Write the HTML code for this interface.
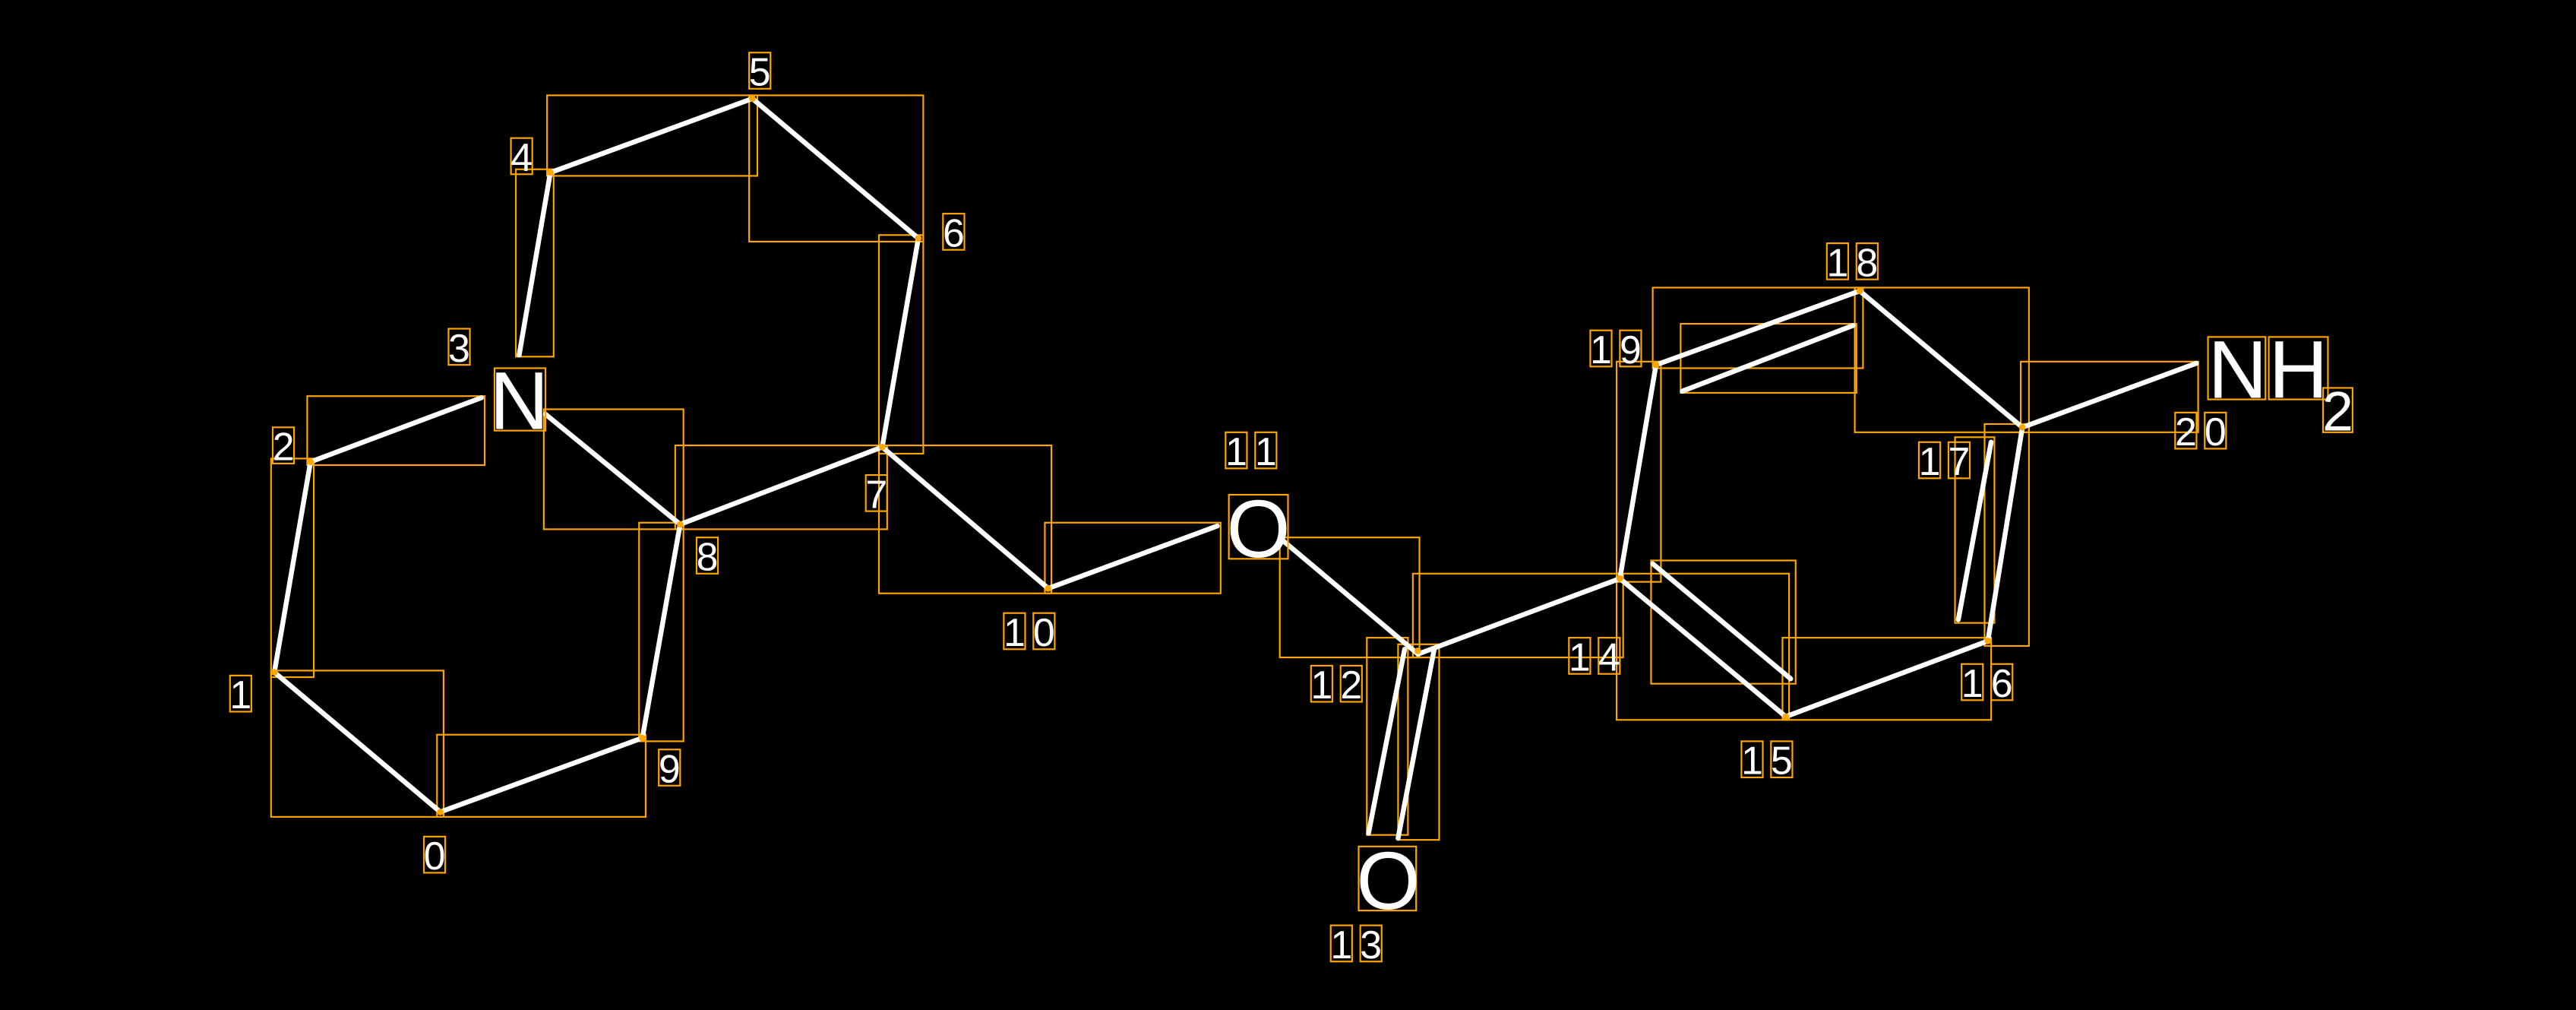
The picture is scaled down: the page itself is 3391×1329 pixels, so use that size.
<!DOCTYPE html>
<html><head><meta charset="utf-8"><style>
html,body{margin:0;padding:0;background:#000;}
svg{display:block;}
text{font-family:"Liberation Sans","DejaVu Sans",sans-serif;fill:#fff;}
</style></head><body>
<svg width="3391" height="1329" viewBox="0 0 1568 614.5" preserveAspectRatio="none" xmlns="http://www.w3.org/2000/svg">
<rect x="0" y="0" width="1568" height="614.5" fill="#000"/>
<g fill="none" stroke="#FFA500" stroke-width="1">
<rect x="165" y="408" width="105" height="89"/>
<rect x="266" y="447" width="127" height="50"/>
<rect x="165" y="279" width="26" height="133"/>
<rect x="187" y="241" width="108" height="42"/>
<rect x="314" y="103" width="23" height="114"/>
<rect x="333" y="58" width="128" height="49"/>
<rect x="456" y="58" width="106" height="89"/>
<rect x="535" y="143" width="27" height="133"/>
<rect x="411" y="271" width="129" height="51"/>
<rect x="331" y="249" width="85" height="73"/>
<rect x="389" y="318" width="27" height="133"/>
<rect x="535" y="271" width="105" height="90"/>
<rect x="636" y="318" width="107" height="43"/>
<rect x="779" y="327" width="85" height="73"/>
<rect x="860" y="349" width="128" height="51"/>
<rect x="832" y="388" width="25" height="120"/>
<rect x="851" y="392" width="25" height="119"/>
<rect x="984" y="349" width="105" height="89"/>
<rect x="1005" y="341" width="88" height="75"/>
<rect x="1085" y="388" width="127" height="50"/>
<rect x="1208" y="258" width="27" height="135"/>
<rect x="1190" y="266" width="24" height="113"/>
<rect x="1129" y="175" width="106" height="88"/>
<rect x="1006" y="175" width="128" height="49"/>
<rect x="1023" y="197" width="107" height="42"/>
<rect x="984" y="220" width="27" height="134"/>
<rect x="1230" y="220" width="108" height="43"/>
</g>
<g stroke="#fff" stroke-width="3" stroke-linecap="round" fill="none">
<line x1="268" y1="494" x2="167" y2="409"/>
<line x1="167" y1="409" x2="189" y2="281"/>
<line x1="189" y1="281" x2="293" y2="242"/>
<line x1="332" y1="252" x2="414" y2="319"/>
<line x1="316" y1="216" x2="335" y2="105"/>
<line x1="335" y1="105" x2="458" y2="60"/>
<line x1="458" y1="60" x2="559" y2="145"/>
<line x1="559" y1="145" x2="537" y2="272"/>
<line x1="537" y1="272" x2="414" y2="319"/>
<line x1="414" y1="319" x2="391" y2="449"/>
<line x1="391" y1="449" x2="268" y2="494"/>
<line x1="537" y1="272" x2="638" y2="358"/>
<line x1="638" y1="358" x2="741" y2="320"/>
<line x1="781" y1="329" x2="862" y2="397"/>
<line x1="855" y1="395" x2="833" y2="507"/>
<line x1="873" y1="395" x2="851" y2="510"/>
<line x1="863" y1="398" x2="986" y2="352"/>
<line x1="986" y1="352" x2="1087" y2="436"/>
<line x1="1006" y1="343" x2="1090" y2="413"/>
<line x1="1087" y1="436" x2="1210" y2="390"/>
<line x1="1210" y1="390" x2="1231" y2="260"/>
<line x1="1192" y1="377" x2="1212" y2="269"/>
<line x1="1231" y1="260" x2="1132" y2="177"/>
<line x1="1132" y1="177" x2="1008" y2="222"/>
<line x1="1024" y1="238" x2="1128" y2="198"/>
<line x1="1008" y1="222" x2="986" y2="352"/>
<line x1="1231" y1="260" x2="1337" y2="221"/>
</g>
<g fill="#FFA500">
<circle cx="268" cy="494" r="2"/><circle cx="167" cy="409" r="2"/><circle cx="189" cy="281" r="2"/>
<circle cx="335" cy="105" r="2"/><circle cx="458" cy="60" r="2"/><circle cx="559" cy="145" r="2"/>
<circle cx="537" cy="272" r="2"/><circle cx="414" cy="319" r="2"/><circle cx="391" cy="449" r="2"/>
<circle cx="638" cy="358" r="2"/><circle cx="863" cy="396" r="2"/><circle cx="986" cy="352" r="2"/>
<circle cx="1087" cy="436" r="2"/><circle cx="1210" cy="390" r="2"/><circle cx="1231" cy="260" r="2"/>
<circle cx="1132" cy="177" r="2"/><circle cx="1008" cy="222" r="2"/>
</g>
<!-- atom labels -->
<g fill="none" stroke="#FFA500" stroke-width="1">
<rect x="301" y="224" width="31" height="38"/>
<rect x="748" y="301" width="36" height="39"/>
<rect x="827" y="515" width="35" height="39"/>
<rect x="1344" y="205" width="35" height="38"/>
<rect x="1381" y="205" width="36" height="38"/>
<rect x="1414" y="236" width="18" height="27"/>
</g>
<g font-size="50" text-anchor="middle">
<text x="316" y="261">N</text>
<text x="766" y="339">O</text>
<text x="845" y="553">O</text>
<text x="1362" y="242">N</text>
<text x="1399" y="242">H</text>
<text x="1423" y="262" font-size="34">2</text>
</g>
<!-- index labels -->
<g font-size="24" text-anchor="middle" id="lbl">
</g>
<g fill="none" stroke="#FFA500" stroke-width="1">
<rect x="258" y="509" width="13" height="22"/>
<rect x="140" y="411" width="13" height="22"/>
<rect x="166" y="260" width="13" height="22"/>
<rect x="273" y="200" width="13" height="22"/>
<rect x="311" y="84" width="13" height="22"/>
<rect x="456" y="32" width="13" height="22"/>
<rect x="574" y="130" width="13" height="22"/>
<rect x="527" y="289" width="13" height="22"/>
<rect x="424" y="327" width="13" height="22"/>
<rect x="401" y="456" width="13" height="22"/>
<rect x="611" y="373" width="13" height="22"/><rect x="629" y="373" width="13" height="22"/>
<rect x="746" y="263" width="13" height="22"/><rect x="764" y="263" width="13" height="22"/>
<rect x="798" y="405" width="13" height="22"/><rect x="816" y="405" width="13" height="22"/>
<rect x="810" y="563" width="13" height="22"/><rect x="828" y="563" width="13" height="22"/>
<rect x="955" y="388" width="13" height="22"/><rect x="973" y="388" width="13" height="22"/>
<rect x="1060" y="451" width="13" height="22"/><rect x="1078" y="451" width="13" height="22"/>
<rect x="1194" y="404" width="13" height="22"/><rect x="1212" y="404" width="13" height="22"/>
<rect x="1168" y="269" width="13" height="22"/><rect x="1186" y="269" width="13" height="22"/>
<rect x="1112" y="148" width="13" height="22"/><rect x="1130" y="148" width="13" height="22"/>
<rect x="968" y="201" width="13" height="22"/><rect x="986" y="201" width="13" height="22"/>
<rect x="1324" y="251" width="13" height="22"/><rect x="1342" y="251" width="13" height="22"/>
</g>
<g font-size="24" text-anchor="middle">
<text x="264.5" y="529">0</text>
<text x="146.5" y="431">1</text>
<text x="172.5" y="280">2</text>
<text x="279.5" y="220">3</text>
<text x="317.5" y="104">4</text>
<text x="462.5" y="52">5</text>
<text x="580.5" y="150">6</text>
<text x="533.5" y="309">7</text>
<text x="430.5" y="347">8</text>
<text x="407.5" y="476">9</text>
<text x="617.5" y="393">1</text><text x="635.5" y="393">0</text>
<text x="752.5" y="283">1</text><text x="770.5" y="283">1</text>
<text x="804.5" y="425">1</text><text x="822.5" y="425">2</text>
<text x="816.5" y="583">1</text><text x="834.5" y="583">3</text>
<text x="961.5" y="408">1</text><text x="979.5" y="408">4</text>
<text x="1066.5" y="471">1</text><text x="1084.5" y="471">5</text>
<text x="1200.5" y="424">1</text><text x="1218.5" y="424">6</text>
<text x="1174.5" y="289">1</text><text x="1192.5" y="289">7</text>
<text x="1118.5" y="168">1</text><text x="1136.5" y="168">8</text>
<text x="974.5" y="221">1</text><text x="992.5" y="221">9</text>
<text x="1330.5" y="271">2</text><text x="1348.5" y="271">0</text>
</g>
</svg>
</body></html>
